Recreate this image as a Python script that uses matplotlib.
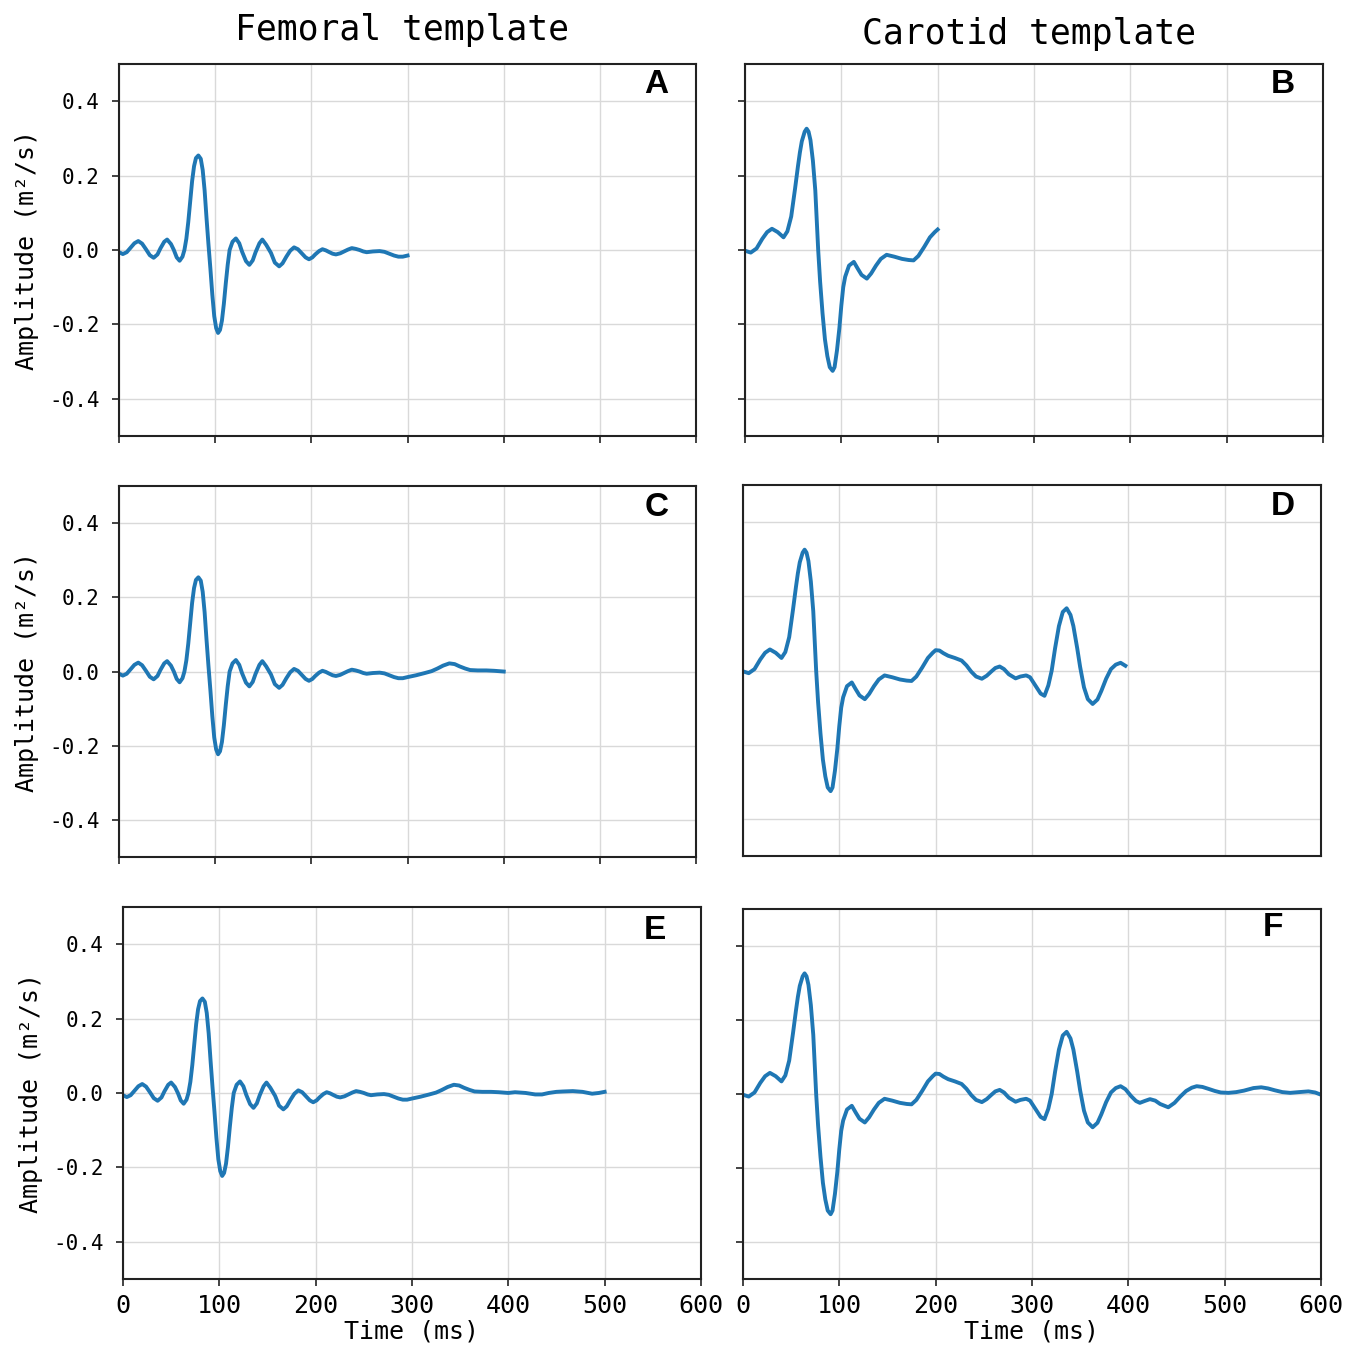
import numpy as np
import matplotlib
matplotlib.use("Agg")
from matplotlib import pyplot as plt

plt.rcParams["font.family"] = "DejaVu Sans Mono"

# femoral template, time (ms) and amplitude (m2/s)
fem_t = [0, 4, 8, 12, 16, 20, 24, 28, 32, 36, 40, 43, 47, 50, 54, 57, 60, 63,
         66, 68, 70, 72, 74, 76, 78, 80, 82.5, 85, 87, 89, 91, 93, 95, 97, 99,
         101, 103, 105, 107, 109, 111, 113, 115, 118, 121.5, 125, 128, 132,
         135.5, 139, 142, 146, 149, 153, 158, 162, 166.5, 170, 174, 178, 182,
         186, 190, 194, 197.5, 201, 204, 208, 211.5, 215, 218, 222, 225.5, 230,
         234, 238, 242, 246, 250, 254, 257.5, 264, 271, 276, 281, 286, 290.5,
         295, 300, 309, 318, 325, 331, 337, 343.5, 349, 354, 360, 365, 373, 382,
         390, 400, 407, 418, 428, 435, 442, 450, 457, 467, 477, 487, 494, 500]
fem_v = [-0.006, -0.011, -0.006, 0.006, 0.018, 0.024, 0.017, 0.002, -0.014,
         -0.021, -0.012, 0.004, 0.022, 0.028, 0.016, 0.0, -0.020, -0.029,
         -0.018, 0.0, 0.03, 0.075, 0.13, 0.185, 0.225, 0.247, 0.254, 0.245,
         0.215, 0.16, 0.085, 0.015, -0.05, -0.12, -0.178, -0.21, -0.223,
         -0.215, -0.19, -0.145, -0.09, -0.04, 0.0, 0.022, 0.031, 0.018, -0.005,
         -0.030, -0.040, -0.028, -0.006, 0.018, 0.028, 0.014, -0.008, -0.034,
         -0.044, -0.036, -0.018, -0.002, 0.007, 0.002, -0.009, -0.020, -0.025,
         -0.020, -0.012, -0.003, 0.002, -0.001, -0.005, -0.010, -0.012, -0.009,
         -0.004, 0.001, 0.005, 0.003, 0.0, -0.004, -0.006, -0.004, -0.003,
         -0.005, -0.010, -0.015, -0.018, -0.018, -0.015, -0.010, -0.004, 0.001,
         0.008, 0.016, 0.022, 0.020, 0.014, 0.008, 0.004, 0.003, 0.003, 0.002,
         0.0, 0.002, 0.0, -0.004, -0.004, 0.0, 0.003, 0.004, 0.005, 0.003,
         -0.002, 0.0, 0.003]

# carotid template
car_t = [0, 6, 12, 18, 23, 28, 34, 40, 44, 48, 52, 55, 57, 59, 62, 64, 66, 68,
         70.5, 73, 76, 78, 80.5, 83, 85.5, 88, 91, 93, 95.5, 98, 100, 102, 104,
         108, 113, 117, 121, 126.5, 131, 136, 141, 147, 155, 163, 170, 175, 180,
         186, 192, 197, 200, 204, 208, 213, 220, 227, 232, 237, 242, 248, 253,
         258, 262, 266.5, 271, 276, 283, 288, 294, 298, 304, 309, 313, 317,
         320.5, 324, 328, 332, 336, 340, 343, 347, 350, 354, 358, 363, 368,
         372, 377, 382, 387, 392, 397, 403, 408, 412, 417, 422.5, 428, 433,
         441.5, 448, 454, 460, 466, 471, 477, 483, 490, 496, 504, 512, 520,
         530, 538, 545, 552, 560, 568, 577, 587, 594, 600]
car_v = [-0.002, -0.007, 0.004, 0.03, 0.048, 0.057, 0.048, 0.034, 0.05, 0.09,
         0.165, 0.225, 0.262, 0.292, 0.318, 0.326, 0.318, 0.295, 0.24, 0.16,
         0.0, -0.085, -0.17, -0.24, -0.285, -0.315, -0.325, -0.315, -0.27,
         -0.21, -0.15, -0.10, -0.072, -0.042, -0.032, -0.05, -0.067, -0.077,
         -0.063, -0.042, -0.024, -0.013, -0.018, -0.024, -0.027, -0.028,
         -0.016, 0.008, 0.034, 0.048, 0.055, 0.054, 0.047, 0.040, 0.034, 0.027,
         0.014, -0.003, -0.016, -0.022, -0.014, -0.002, 0.007, 0.011, 0.004,
         -0.010, -0.021, -0.016, -0.013, -0.018, -0.042, -0.062, -0.068, -0.04,
         0.0, 0.06, 0.12, 0.158, 0.168, 0.15, 0.12, 0.06, 0.01, -0.045, -0.077,
         -0.09, -0.078, -0.055, -0.022, 0.004, 0.016, 0.021, 0.013, -0.006,
         -0.019, -0.024, -0.019, -0.014, -0.018, -0.027, -0.036, -0.024, -0.007,
         0.008, 0.017, 0.021, 0.019, 0.014, 0.008, 0.004, 0.003, 0.005, 0.009,
         0.016, 0.018, 0.015, 0.010, 0.005, 0.003, 0.005, 0.007, 0.004, -0.002]

fem_t, fem_v = np.array(fem_t), np.array(fem_v)
car_t, car_v = np.array(car_t), np.array(car_v)

letters = ["A", "B", "C", "D", "E", "F"]
lengths = [300, 200, 400, 400, 500, 600]

# axes boxes in figure fractions (left, bottom, width, height)
boxes = [
    [0.0879, 0.6768, 0.4262, 0.2758],
    [0.5502, 0.6768, 0.4269, 0.2758],
    [0.0879, 0.3647, 0.4262, 0.2750],
    [0.5487, 0.3654, 0.4269, 0.2750],
    [0.0908, 0.0519, 0.4269, 0.2758],
    [0.5487, 0.0519, 0.4269, 0.2743],
]
letter_pos = [(0.931, 0.946), (0.931, 0.946), (0.931, 0.943),
              (0.934, 0.943), (0.920, 0.938), (0.917, 0.951)]

fig = plt.figure(figsize=(13.54, 13.49), dpi=100)

for i, box in enumerate(boxes):
    ax = fig.add_axes(box)
    if i % 2 == 0:
        t, v = fem_t, fem_v
    else:
        t, v = car_t, car_v
    m = t <= lengths[i]
    ax.plot(t[m], v[m], color="#1f77b4", lw=2.8, solid_joinstyle="round")
    ax.set_xlim(0, 600)
    ax.set_ylim(-0.5, 0.5)
    ax.set_xticks([0, 100, 200, 300, 400, 500, 600])
    ax.set_yticks([-0.4, -0.2, 0.0, 0.2, 0.4])
    ax.grid(True, color="#d9d9d9", lw=1)
    ax.set_axisbelow(True)
    for s in ax.spines.values():
        s.set_linewidth(1.5)
        s.set_color("#222222")
    ax.tick_params(direction="out", length=5, width=1.2, color="#222222")
    ax.tick_params(axis="y", labelsize=15, pad=9)
    ax.tick_params(axis="x", labelsize=18, pad=6)

    if i % 2 == 0:
        ax.set_yticklabels(["-0.4", "-0.2", "0.0", "0.2", "0.4"])
        ax.set_ylabel("Amplitude (m²/s)", fontsize=18)
        ax.yaxis.set_label_coords(-0.138, 0.5)
    else:
        ax.set_yticklabels([])
    if i < 4:
        ax.set_xticklabels([])
    else:
        ax.set_xlabel("Time (ms)", fontsize=18, labelpad=1)
    if i == 3:
        ax.tick_params(length=0)

    ax.text(letter_pos[i][0], letter_pos[i][1], letters[i], transform=ax.transAxes,
            ha="center", va="center", fontsize=24, fontweight="bold",
            family="Liberation Sans")

fig.text(0.297, 0.978, "Femoral template", ha="center", va="center", fontsize=25)
fig.text(0.760, 0.975, "Carotid template", ha="center", va="center", fontsize=25)

fig.savefig("out.png", dpi=100)
